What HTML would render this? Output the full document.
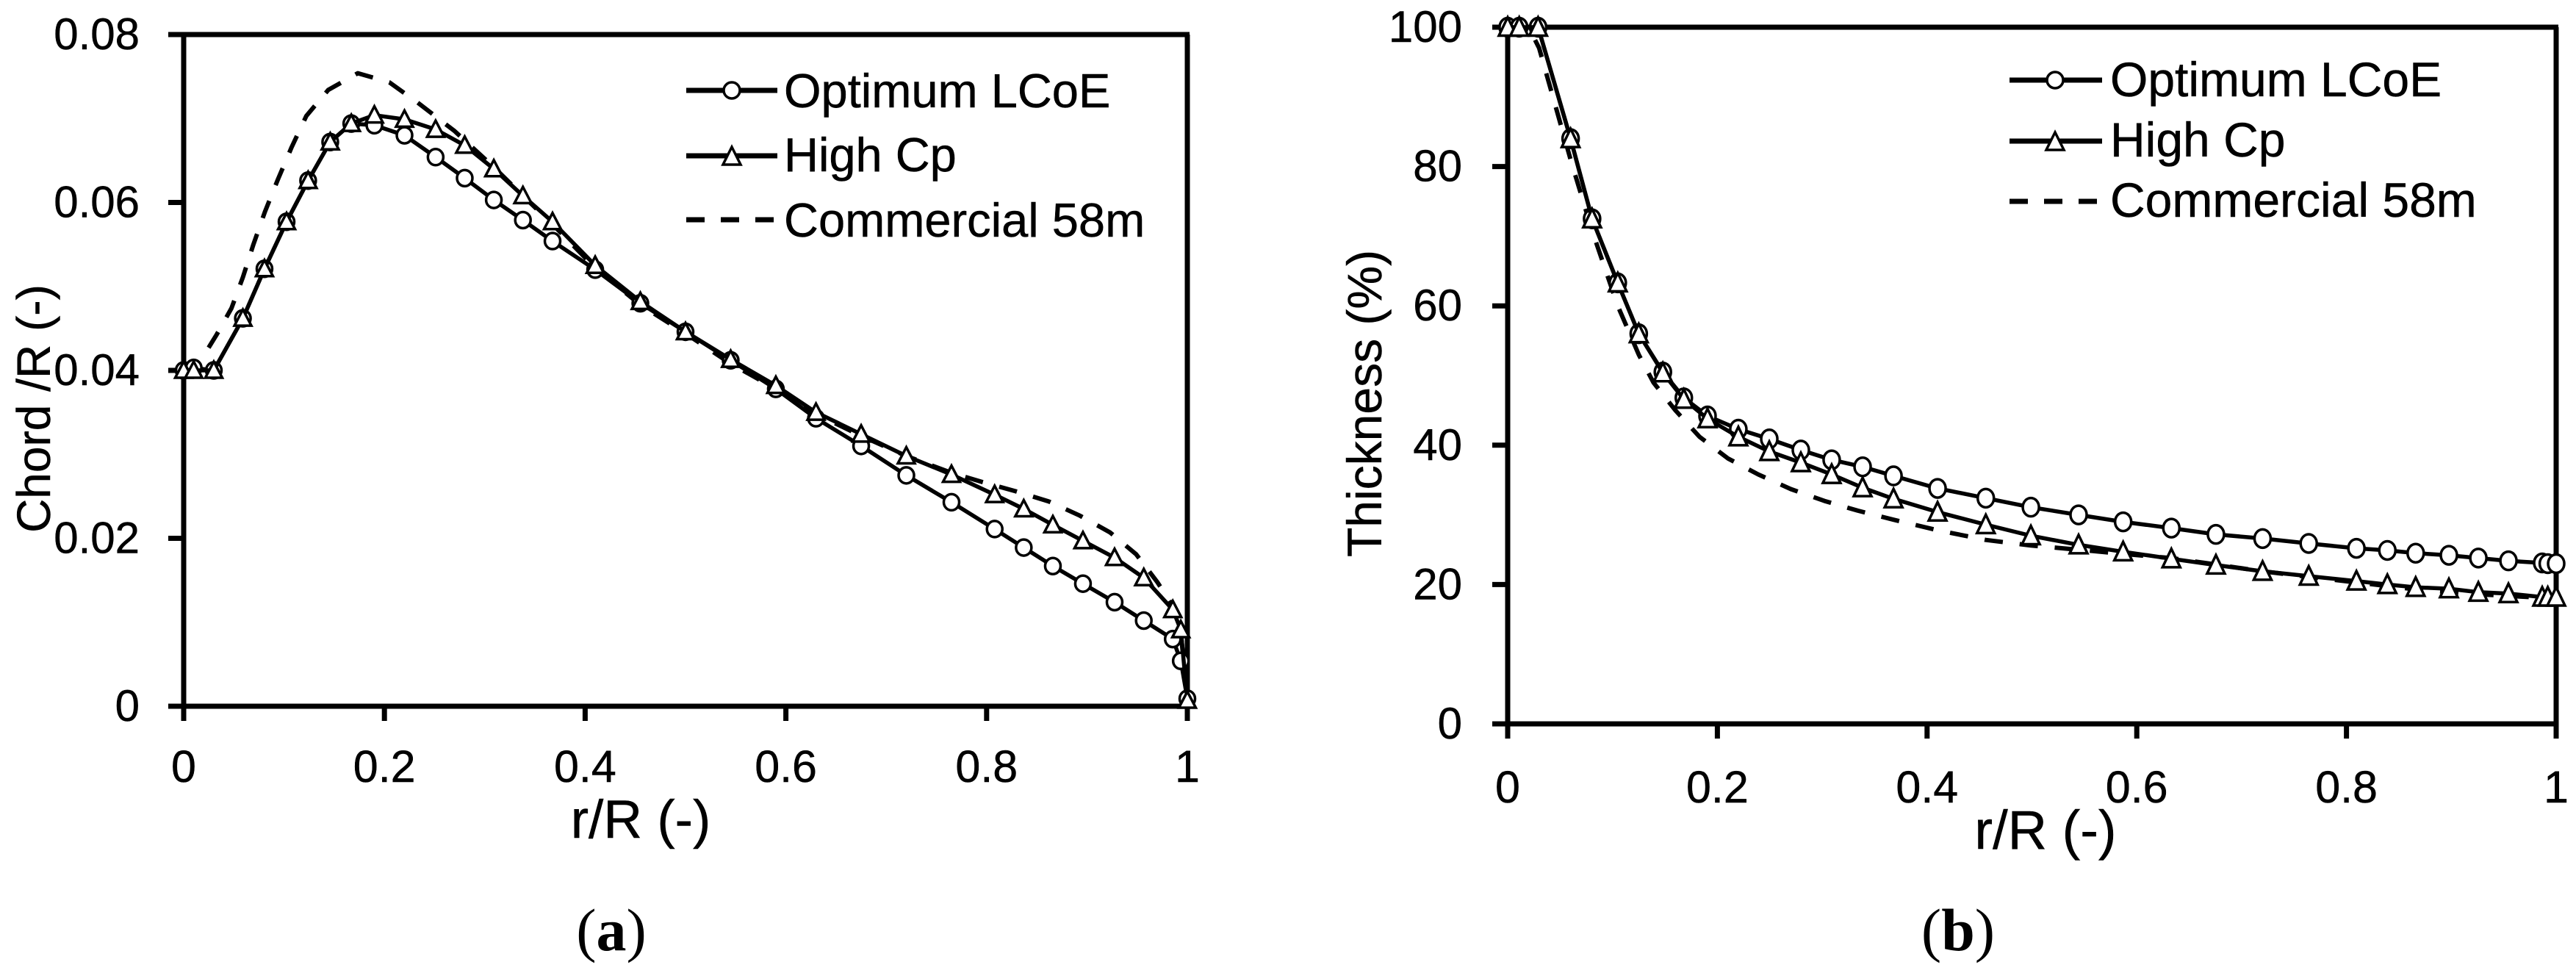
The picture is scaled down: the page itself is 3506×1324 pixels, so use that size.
<!DOCTYPE html>
<html lang="en">
<head>
<meta charset="utf-8">
<title>Chord and thickness distributions</title>
<style>
html,body{margin:0;padding:0;background:#fff;width:3506px;height:1324px;overflow:hidden}
svg{display:block}
text{font-family:"Liberation Sans",Arial,sans-serif;fill:#000;stroke:#000;stroke-width:0.5px}
.serif{font-family:"Liberation Serif","Times New Roman",serif;font-size:82px;stroke-width:0}
.leg{font-size:65px}
.legb{font-size:66px}
</style>
</head>
<body>
<svg id="root" width="3506" height="1324" viewBox="0 0 3506 1324" xmlns="http://www.w3.org/2000/svg">
  <rect width="3506" height="1324" fill="#fff"/>
  <g id="chartA"></g>
  <g id="chartB"></g>

  <g>
    <g>
      <line x1="934" y1="123" x2="1058" y2="123" stroke="#000" stroke-width="7"/>
      <circle cx="996" cy="123" r="11" fill="#fff" stroke="#000" stroke-width="3.5"/>
      <text class="leg" x="1067" y="146">Optimum LCoE</text>
    </g>
    <g>
      <line x1="934" y1="212" x2="1058" y2="212" stroke="#000" stroke-width="7"/>
      <polygon points="996,200 1008,224 984,224" fill="#fff" stroke="#000" stroke-width="3.5"/>
      <text class="leg" x="1067" y="233">High Cp</text>
    </g>
    <g>
      <line x1="934" y1="299" x2="1058" y2="299" stroke="#000" stroke-width="7" stroke-dasharray="25 22"/>
      <text class="leg" x="1067" y="322">Commercial 58m</text>
    </g>
  </g>

  <g>
    <g>
      <line x1="2735" y1="109" x2="2861" y2="109" stroke="#000" stroke-width="7"/>
      <circle cx="2797" cy="109" r="11" fill="#fff" stroke="#000" stroke-width="3.5"/>
      <text class="legb" x="2872" y="131">Optimum LCoE</text>
    </g>
    <g>
      <line x1="2735" y1="192" x2="2861" y2="192" stroke="#000" stroke-width="7"/>
      <polygon points="2797,180 2809,204 2785,204" fill="#fff" stroke="#000" stroke-width="3.5"/>
      <text class="legb" x="2872" y="213">High Cp</text>
    </g>
    <g>
      <line x1="2735" y1="274" x2="2861" y2="274" stroke="#000" stroke-width="7" stroke-dasharray="25 22"/>
      <text class="legb" x="2872" y="295">Commercial 58m</text>
    </g>
  </g>

  <text transform="translate(68,556) rotate(-90)" text-anchor="middle" font-size="64">Chord /R (-)</text>
  <text transform="translate(1880,549) rotate(-90)" text-anchor="middle" font-size="66">Thickness (%)</text>
  <text x="872" y="1140" text-anchor="middle" font-size="73">r/R (-)</text>
  <text x="2784" y="1155" text-anchor="middle" font-size="74">r/R (-)</text>
  <text class="serif" x="832" y="1293" text-anchor="middle">(<tspan font-weight="bold">a</tspan>)</text>
  <text class="serif" x="2665" y="1293" text-anchor="middle">(<tspan font-weight="bold">b</tspan>)</text>
</svg>

<script>
const xTickValues = [0, 0.2, 0.4, 0.6, 0.8, 1];
const xTickLabels = ['0', '0.2', '0.4', '0.6', '0.8', '1'];

const chordTickValues = [0, 0.02, 0.04, 0.06, 0.08];
const chordTickLabels = ['0', '0.02', '0.04', '0.06', '0.08'];
const chordR = [0, 0.01, 0.03, 0.059, 0.0805, 0.1025, 0.124, 0.146, 0.167, 0.19, 0.22, 0.251, 0.28, 0.309, 0.338, 0.3675, 0.41, 0.455, 0.5, 0.545, 0.59, 0.63, 0.675, 0.72, 0.765, 0.808, 0.837, 0.866, 0.896, 0.9275, 0.9566, 0.9855, 0.9935, 1];
const chordOptimum = [0.04, 0.0403, 0.04, 0.0462, 0.0521, 0.0577, 0.0626, 0.0672, 0.0694, 0.0692, 0.068, 0.0654, 0.0629, 0.0603, 0.0579, 0.0554, 0.052, 0.048, 0.0446, 0.0412, 0.0378, 0.0343, 0.031, 0.0275, 0.0243, 0.0211, 0.0189, 0.0167, 0.0146, 0.0124, 0.0102, 0.008, 0.0054, 0.0009];
const chordHighCp = [0.04, 0.04, 0.04, 0.0462, 0.0521, 0.0577, 0.0626, 0.0672, 0.0694, 0.0704, 0.0699, 0.0687, 0.0668, 0.064, 0.0608, 0.0577, 0.0525, 0.0482, 0.0446, 0.0413, 0.0382, 0.035, 0.0324, 0.0298, 0.0276, 0.0252, 0.0235, 0.0216, 0.0197, 0.0177, 0.0153, 0.0115, 0.0091, 0.0007];
const chordCommercialR = [0, 0.015, 0.033, 0.0476, 0.059, 0.0695, 0.081, 0.0937, 0.1076, 0.1222, 0.144, 0.1735, 0.205, 0.233, 0.27, 0.309, 0.338, 0.3675, 0.41, 0.455, 0.5, 0.545, 0.59, 0.63, 0.675, 0.72, 0.765, 0.796, 0.829, 0.8617, 0.893, 0.923, 0.949, 0.97, 0.988, 0.994, 1];
const chordCommercial = [0.04, 0.0408, 0.0443, 0.0474, 0.0511, 0.055, 0.0589, 0.0627, 0.0666, 0.0703, 0.0734, 0.0754, 0.0743, 0.0719, 0.0685, 0.0642, 0.0608, 0.0574, 0.0522, 0.0478, 0.0444, 0.0408, 0.0378, 0.0348, 0.0322, 0.0298, 0.0278, 0.0267, 0.0256, 0.0244, 0.0227, 0.0207, 0.0181, 0.0148, 0.0115, 0.0082, 0.0007];

const thicknessTickValues = [0, 20, 40, 60, 80, 100];
const thicknessTickLabels = ['0', '20', '40', '60', '80', '100'];
const thicknessR = [0, 0.011, 0.029, 0.06, 0.0805, 0.105, 0.125, 0.148, 0.168, 0.1906, 0.22, 0.2495, 0.2796, 0.309, 0.3385, 0.368, 0.41, 0.456, 0.499, 0.5445, 0.587, 0.633, 0.6755, 0.72, 0.764, 0.8095, 0.839, 0.866, 0.8977, 0.9258, 0.9545, 0.9867, 0.992, 1];
const thicknessOptimum = [100, 100, 100, 84, 72.5, 63.3, 56, 50.5, 46.8, 44.2, 42.3, 40.9, 39.3, 37.9, 36.9, 35.6, 33.8, 32.4, 31.1, 30, 29, 28.1, 27.2, 26.6, 25.9, 25.2, 24.9, 24.5, 24.2, 23.8, 23.4, 23.1, 23, 23];
const thicknessHighCp = [100, 100, 100, 84, 72.5, 63.3, 56, 50.4, 46.6, 43.8, 41.2, 39.1, 37.5, 35.8, 33.9, 32.3, 30.4, 28.6, 27, 25.7, 24.7, 23.7, 22.8, 21.9, 21.2, 20.5, 20, 19.6, 19.4, 18.9, 18.7, 18.2, 18.2, 18.2];
const thicknessCommercialR = [0, 0.02, 0.03, 0.06, 0.08, 0.105, 0.125, 0.139, 0.16, 0.183, 0.21, 0.239, 0.27, 0.302, 0.334, 0.368, 0.41, 0.456, 0.499, 0.5445, 0.587, 0.633, 0.665, 0.72, 0.764, 0.81, 0.866, 0.926, 1];
const thicknessCommercial = [100, 100, 97, 81, 71, 60, 53, 49, 45, 41.2, 38.1, 35.8, 33.7, 32, 30.6, 29.3, 27.8, 26.4, 25.6, 25, 24.4, 23.8, 23.1, 21.9, 21.1, 20.3, 19.3, 18.6, 18];

const NS = 'http://www.w3.org/2000/svg';
function shape(parent, tag, attrs) {
  const el = document.createElementNS(NS, tag);
  for (const k in attrs) el.setAttribute(k, attrs[k]);
  parent.appendChild(el);
  return el;
}
function drawChart(parent, box, yMax, yTicks, yLabels, opt, high, commR, comm, rVals) {
  const sx = v => box.left + v * (box.right - box.left);
  const sy = v => box.bottom - (v / yMax) * (box.bottom - box.top);
  const frame = {stroke: '#000', 'stroke-width': 7};

  const axisTop = shape(parent, 'line', Object.assign({x1: box.left - 21, y1: box.top, x2: box.right + 3, y2: box.top}, frame));
  
  
  const axisBottom = shape(parent, 'line', Object.assign({x1: box.left - 21, y1: box.bottom, x2: box.right + 3, y2: box.bottom}, frame));
  
  
  const axisLeft = shape(parent, 'line', Object.assign({x1: box.left, y1: box.top, x2: box.left, y2: box.bottom + 20}, frame));
  
  
  const axisRight = shape(parent, 'line', Object.assign({x1: box.right, y1: box.top, x2: box.right, y2: box.bottom + 20}, frame));
  
  

  xTickValues.forEach((v, i) => {
    const t = shape(parent, 'line', Object.assign({x1: sx(v), y1: box.bottom, x2: sx(v), y2: box.bottom + 20}, frame));
    
    
    const l = shape(parent, 'text', {x: sx(v), y: box.bottom + box.xLabelOffset, 'text-anchor': 'middle', 'font-size': 61});
    l.textContent = xTickLabels[i];
    
    
  });
  yTicks.forEach((v, i) => {
    const t = shape(parent, 'line', Object.assign({x1: box.left - 21, y1: sy(v), x2: box.left, y2: sy(v)}, frame));
    
    
    const l = shape(parent, 'text', {x: box.labelRight, y: sy(v) + 20, 'text-anchor': 'end', 'font-size': 60});
    l.textContent = yLabels[i];
    
    
  });

  const line = (rs, vs) => rs.map((r, i) => sx(r).toFixed(1) + ',' + sy(vs[i]).toFixed(1)).join(' ');

  const dashed = shape(parent, 'polyline', {points: line(commR, comm), fill: 'none', stroke: '#000', 'stroke-width': 6, 'stroke-dasharray': '25 23', 'stroke-linejoin': 'round'});
  
  

  const optLine = shape(parent, 'polyline', {points: line(rVals, opt), fill: 'none', stroke: '#000', 'stroke-width': 5.5, 'stroke-linejoin': 'round'});
  
  
  rVals.forEach((r, i) => {
    const c = shape(parent, 'ellipse', {cx: sx(r), cy: sy(opt[i]), rx: box.mx, ry: box.my, fill: '#fff', stroke: '#000', 'stroke-width': 3.5});
    
    
  });

  const highLine = shape(parent, 'polyline', {points: line(rVals, high), fill: 'none', stroke: '#000', 'stroke-width': 5.5, 'stroke-linejoin': 'round'});
  
  
  rVals.forEach((r, i) => {
    const x = sx(r), y = sy(high[i]);
    const p = shape(parent, 'polygon', {
      points: x + ',' + (y - box.my - 1) + ' ' + (x + box.mx + 1) + ',' + (y + box.my - 1) + ' ' + (x - box.mx - 1) + ',' + (y + box.my - 1),
      fill: '#fff', stroke: '#000', 'stroke-width': 3.5
    });
    
    
  });
}

drawChart(document.getElementById('chartA'),
  {left: 250, right: 1616, top: 47, bottom: 961, xLabelOffset: 103, labelRight: 190, mx: 10.5, my: 11},
  0.08, chordTickValues, chordTickLabels, chordOptimum, chordHighCp, chordCommercialR, chordCommercial, chordR);
drawChart(document.getElementById('chartB'),
  {left: 2052, right: 3479, top: 37, bottom: 985, xLabelOffset: 107, labelRight: 1990, mx: 11, my: 12.5},
  100, thicknessTickValues, thicknessTickLabels, thicknessOptimum, thicknessHighCp, thicknessCommercialR, thicknessCommercial, thicknessR);
</script>
</body>
</html>
